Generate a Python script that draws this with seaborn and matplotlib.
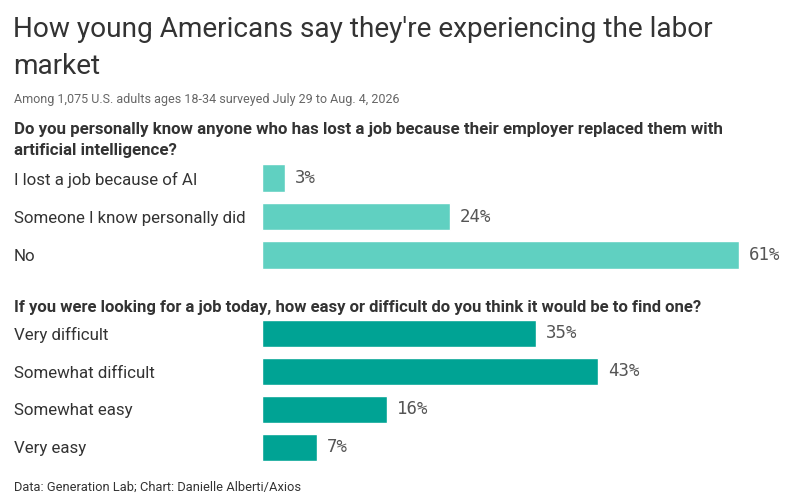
import matplotlib
matplotlib.use("Agg")
import matplotlib.pyplot as plt
import seaborn as sns
import pandas as pd

# ---- data ----
q1_categories = ["I lost a job because of AI", "Someone I know personally did", "No"]
q1_values = [3, 24, 61]
q2_categories = ["Very difficult", "Somewhat difficult", "Somewhat easy", "Very easy"]
q2_values = [35, 43, 16, 7]

title_lines = ["How young Americans say they're experiencing the labor", "market"]
subtitle = "Among 1,075 U.S. adults ages 18-34 surveyed July 29 to Aug. 4, 2026"
q1_lines = ["Do you personally know anyone who has lost a job because their employer replaced them with",
            "artificial intelligence?"]
q2_text = "If you were looking for a job today, how easy or difficult do you think it would be to find one?"
footer = "Data: Generation Lab; Chart: Danielle Alberti/Axios"

LIGHT = "#60D0C1"
DARK = "#00A394"
TXT = "#333333"

sns.set_theme(style="white")
plt.rcParams["font.family"] = ["Roboto", "DejaVu Sans"]

W, H = 788, 501
fig = plt.figure(figsize=(W / 100, H / 100), dpi=100)
fig.patch.set_facecolor("white")

def fx(x):
    return x / W

def fy(y):
    return 1 - y / H

PX_PER_PCT = 7.82
LEFT = 262
AX_W = 510

def make_axes(top, bottom, cats, vals, color):
    ax = fig.add_axes([fx(LEFT), fy(bottom), AX_W / W, (bottom - top) / H])
    df = pd.DataFrame({"cat": cats, "val": vals})
    sns.barplot(data=df, x="val", y="cat", orient="h", color=color, width=0.71,
                saturation=1, ax=ax)
    ax.set_xlim(0, AX_W / PX_PER_PCT)
    ax.set_ylim(len(cats) - 0.5, -0.5)
    ax.set_xlabel("")
    ax.set_ylabel("")
    ax.set_xticks([])
    for s in ax.spines.values():
        s.set_visible(False)
    ax.tick_params(axis="y", length=0, pad=(LEFT - 14) * 0.72)
    for lab in ax.get_yticklabels():
        lab.set_horizontalalignment("left")
        lab.set_fontsize(12.2)
        lab.set_color(TXT)
    texts = ax.bar_label(ax.containers[0], labels=[f"{v}%" for v in vals], padding=7,
                         fontsize=12.5, color="#555555")
    for t in texts:
        t.set_fontfamily("DejaVu Sans Mono")
    return ax

make_axes(158.75, 274.25, q1_categories, q1_values, LIGHT)
make_axes(314.5, 466.5, q2_categories, q2_values, DARK)

fig.text(fx(13), fy(37), title_lines[0], fontsize=20.2, color=TXT, va="baseline")
fig.text(fx(13), fy(74), title_lines[1], fontsize=20.2, color=TXT, va="baseline")
fig.text(fx(14), fy(103), subtitle, fontsize=9.0, color="#666666", va="baseline")
fig.text(fx(14), fy(134), q1_lines[0], fontsize=12.2, fontweight="bold", color=TXT, va="baseline")
fig.text(fx(14), fy(155), q1_lines[1], fontsize=12.2, fontweight="bold", color=TXT, va="baseline")
fig.text(fx(14), fy(312), q2_text, fontsize=12.0, fontweight="bold", color=TXT, va="baseline")
fig.text(fx(14), fy(491), footer, fontsize=9.3, color=TXT, va="baseline")

fig.savefig("out.png", dpi=100, facecolor="white")
